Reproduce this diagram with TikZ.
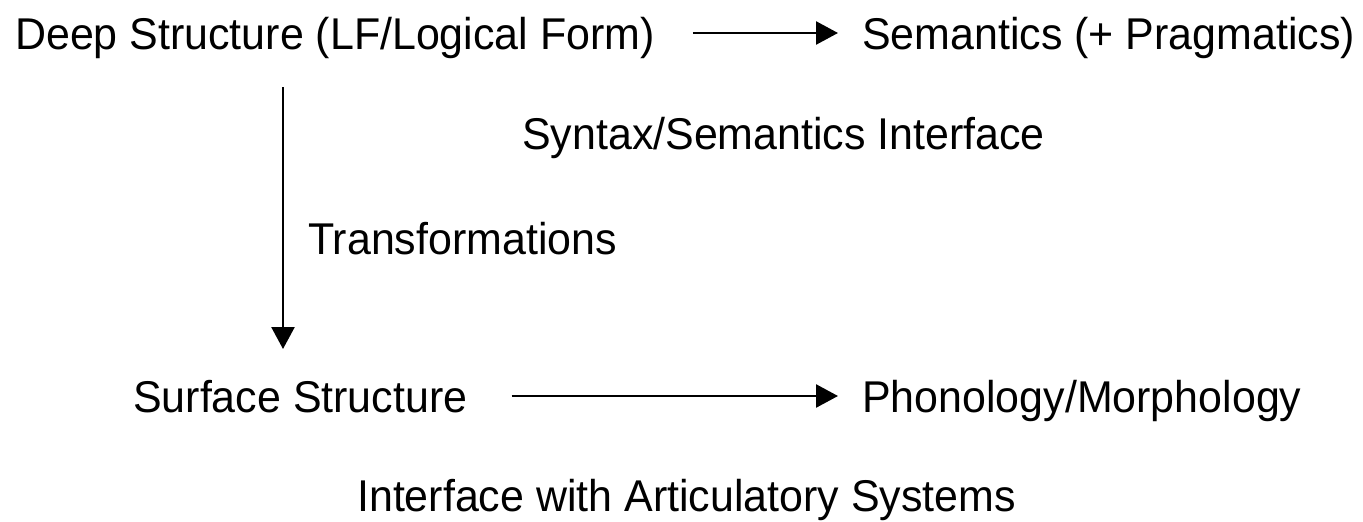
\documentclass[tikz,border=0pt]{standalone}
\usepackage{fontspec}
\setmainfont[FakeStretch=0.965]{Liberation Sans}
\usetikzlibrary{arrows.meta}
\begin{document}
\begin{tikzpicture}[x=1pt,y=-1pt,
  lbl/.style={inner sep=0pt, anchor=west, text height=32pt, text depth=0pt,
    font=\fontsize{44.5}{52}\selectfont},
  conn/.style={line width=2.6pt, -{Triangle[length=22pt,width=23pt]}}]
  \useasboundingbox[fill=white] (0,0) rectangle (1363,522);
  % levels of representation
  \node[lbl] (ds)  at (15,33)   {Deep Structure (LF/Logical Form)};
  \node[lbl] (sem) at (862,33)  {Semantics (+ Pragmatics)};
  \node[lbl] (ssi) at (522,133) {Syntax/Semantics Interface};
  \node[lbl] (tr)  at (308,238) {Transformations};
  \node[lbl] (ss)  at (133,396) {Surface Structure};
  \node[lbl] (pm)  at (862,396) {Phonology/Morphology};
  \node[lbl] (ias) at (357,495) {Interface with Articulatory Systems};
  % derivation arrows
  \coordinate (vtop) at (283,87);
  \coordinate (vbot) at (283,349);
  \draw[conn, shorten <=38pt, shorten >=24pt] (ds.east) -- (sem.west);
  \draw[conn] (vtop) -- (vbot);
  \draw[conn, shorten <=44pt, shorten >=24pt] (ss.east) -- (pm.west);
\end{tikzpicture}
\end{document}
